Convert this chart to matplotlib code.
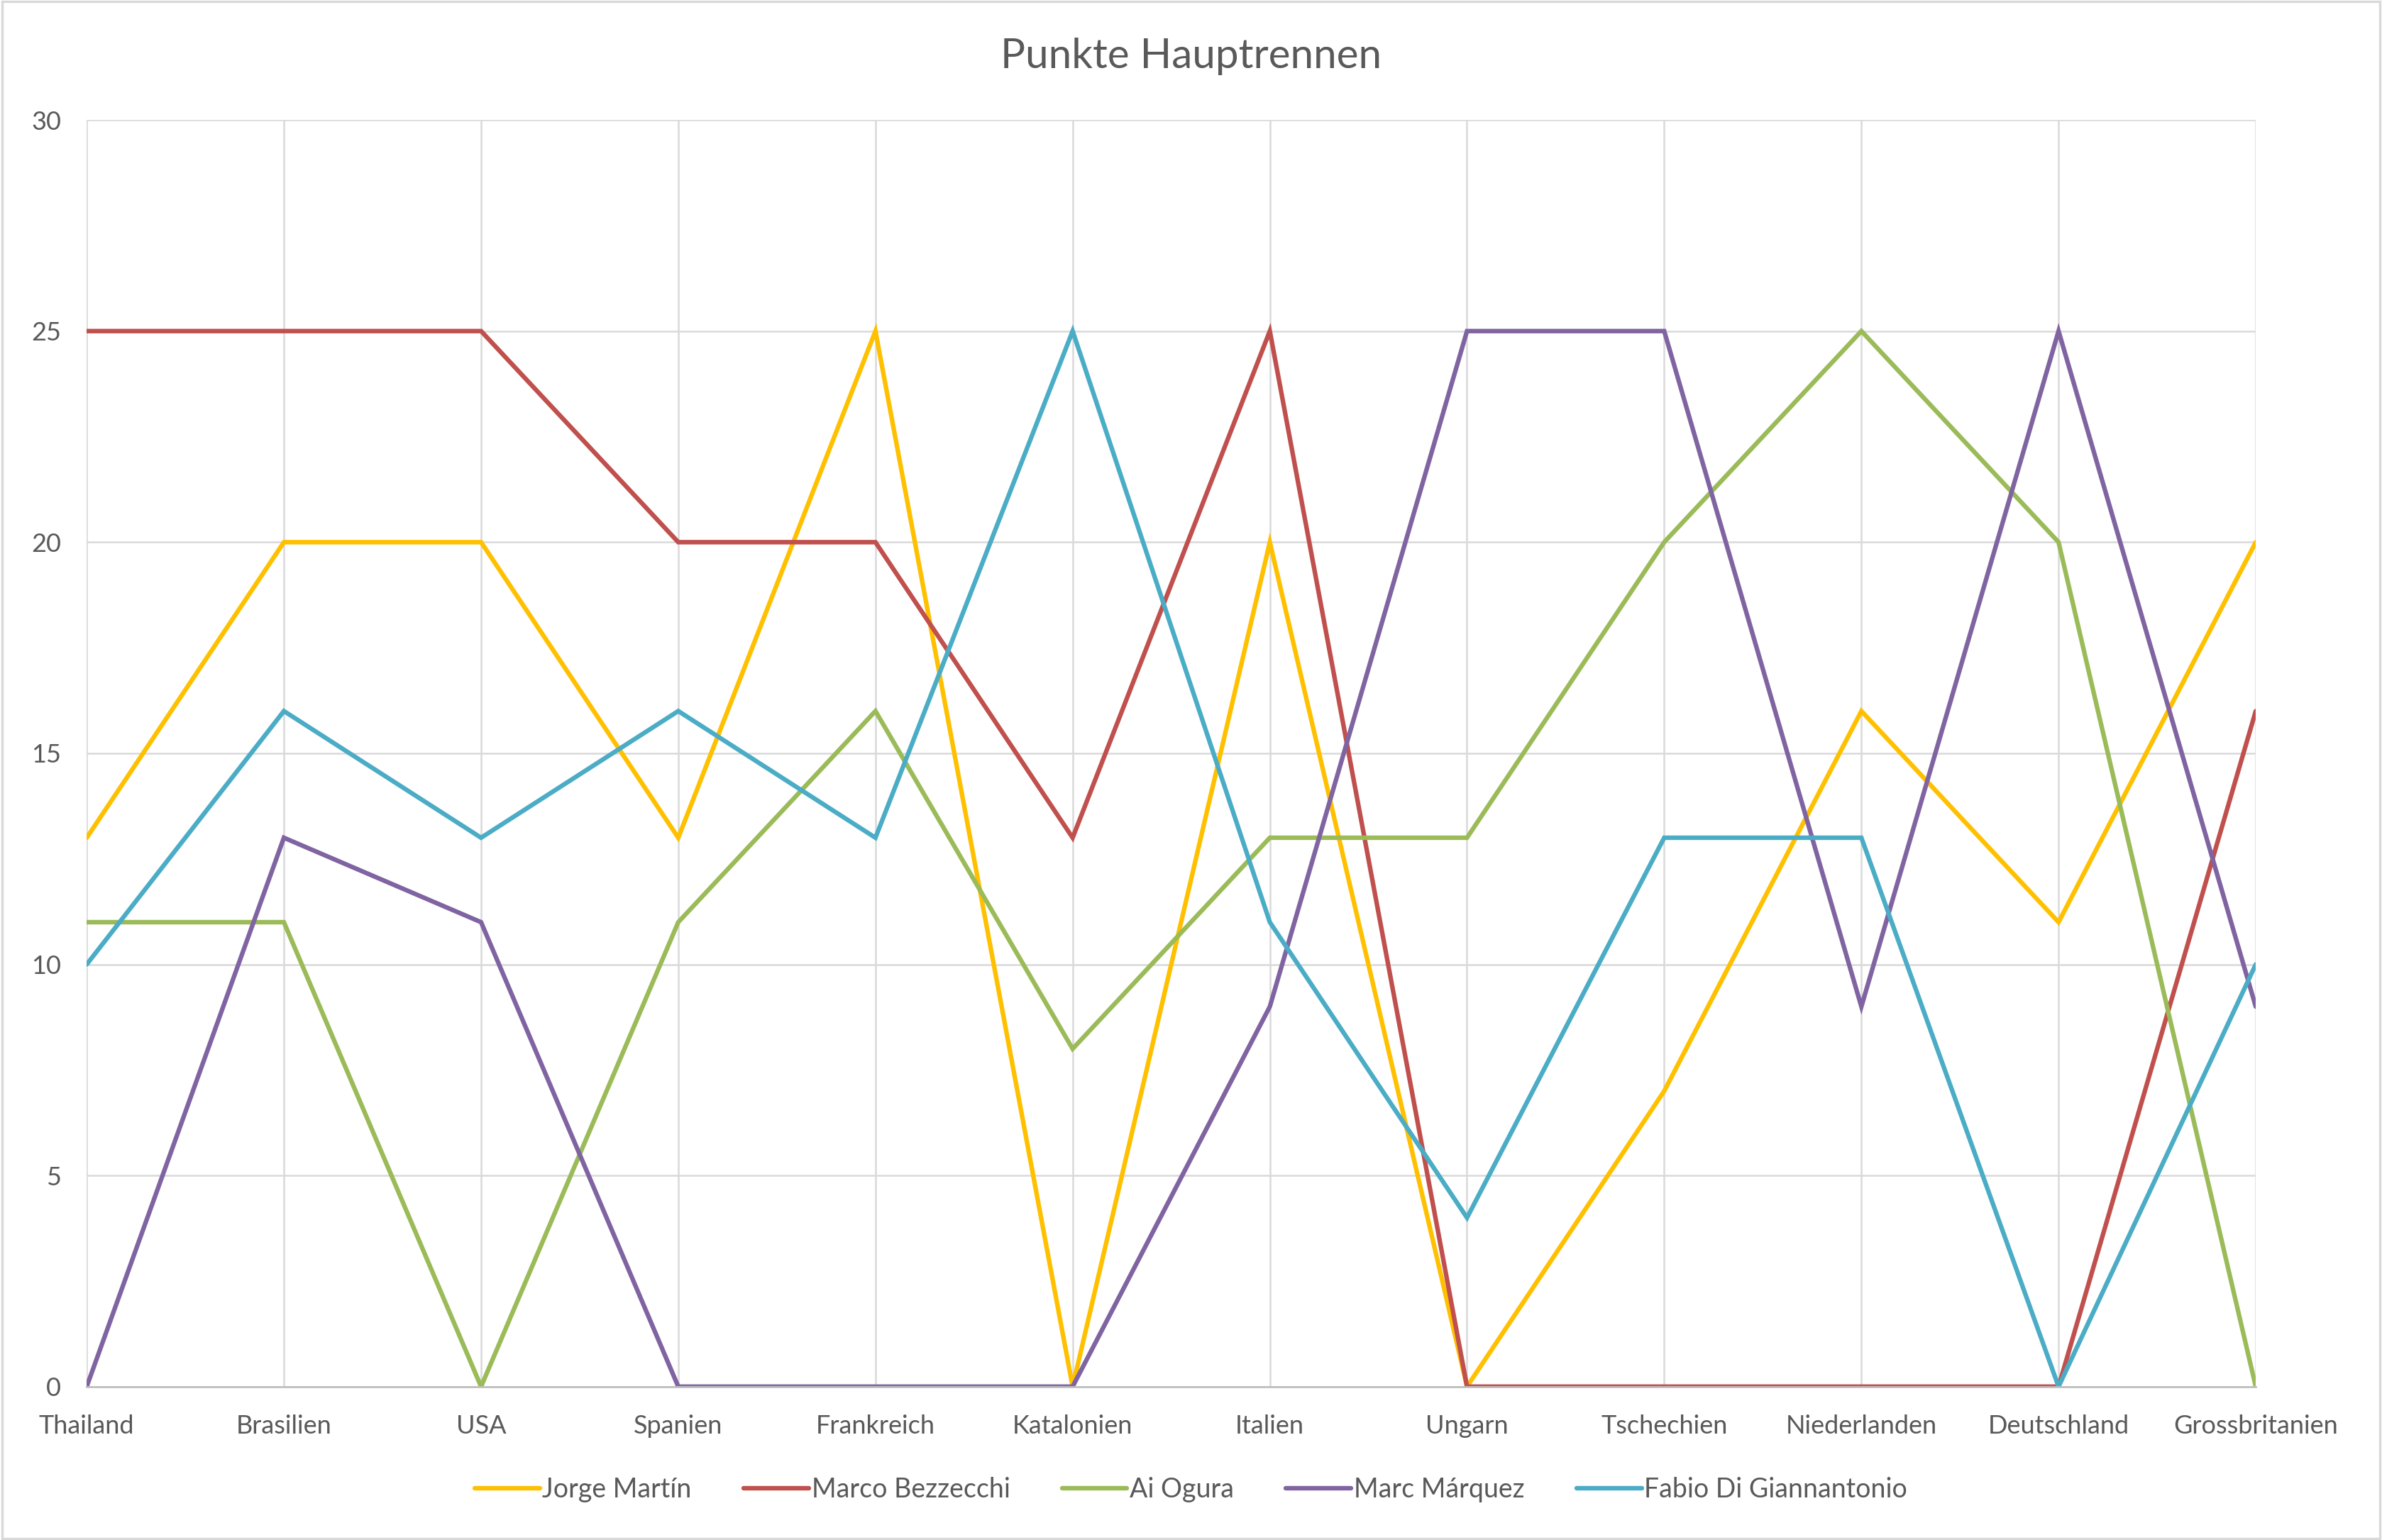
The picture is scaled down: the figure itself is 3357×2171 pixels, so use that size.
import matplotlib.pyplot as plt
import numpy as np

# Rennen (Kategorien)
rennen = ['Thailand', 'Brasilien', 'USA', 'Spanien', 'Frankreich', 'Katalonien',
          'Italien', 'Ungarn', 'Tschechien', 'Niederlanden', 'Deutschland',
          'Grossbritanien']

# Punkte je Fahrer
martin = [13, 20, 20, 13, 25, 0, 20, 0, 7, 16, 11, 20]
bezzecchi = [25, 25, 25, 20, 20, 13, 25, 0, 0, 0, 0, 16]
ogura = [11, 11, 0, 11, 16, 8, 13, 13, 20, 25, 20, 0]
marquez = [0, 13, 11, 0, 0, 0, 9, 25, 25, 9, 25, 9]
digiannantonio = [10, 16, 13, 16, 13, 25, 11, 4, 13, 13, 0, 10]

fahrer = ['Jorge Martín', 'Marco Bezzecchi', 'Ai Ogura', 'Marc Márquez',
          'Fabio Di Giannantonio']
farben = ['#FFC000', '#C0504D', '#9BBB59', '#8064A2', '#4BACC6']
y_ticks = [0, 5, 10, 15, 20, 25, 30]

plt.rcParams['font.family'] = ['Lato', 'DejaVu Sans']
text_color = '#595959'
grid_color = '#D9D9D9'

fig = plt.figure(figsize=(16.785, 10.855), dpi=200)
ax = fig.add_axes([0.0364, 0.0996, 0.9106, 0.8225])

x = np.arange(len(rennen))
for name, werte, farbe in zip(fahrer, [martin, bezzecchi, ogura, marquez, digiannantonio], farben):
    ax.plot(x, werte, color=farbe, lw=2.3, label=name,
            solid_capstyle='round', solid_joinstyle='miter')

ax.set_xlim(0, len(rennen) - 1)
ax.set_ylim(0, 30)
ax.set_xticks(x)
ax.set_xticklabels(rennen)
ax.set_yticks(y_ticks)
ax.tick_params(axis='both', length=0, labelsize=13, colors=text_color)
ax.tick_params(axis='x', pad=14)
ax.tick_params(axis='y', pad=13)

ax.grid(True, color=grid_color, lw=0.9)
ax.set_axisbelow(True)
for side in ['top', 'right', 'left']:
    ax.spines[side].set_visible(False)
ax.spines['bottom'].set_color('#BFBFBF')
ax.spines['bottom'].set_linewidth(1.0)

fig.text(0.5, 0.9635, 'Punkte Hauptrennen', ha='center', va='center',
         fontsize=21, color=text_color)

fig.legend(loc='center', bbox_to_anchor=(0.5, 0.0325), ncol=5, frameon=False,
           fontsize=13.5, labelcolor=text_color, handlelength=2.45,
           handletextpad=0.1, columnspacing=1.95)

# Rahmen um das ganze Diagramm
fig.patches.append(plt.Rectangle((0.001, 0.001), 0.998, 0.998, transform=fig.transFigure,
                                 fill=False, edgecolor='#D9D9D9', lw=1.2))

plt.savefig('out.png', dpi=200)
plt.close()
